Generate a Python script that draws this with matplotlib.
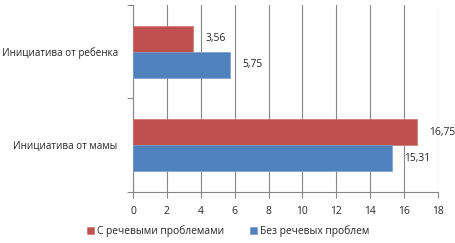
import matplotlib
matplotlib.use("Agg")
import matplotlib.pyplot as plt
import numpy as np

categories = ["Инициатива от мамы", "Инициатива от ребенка"]
series_names = ["С речевыми проблемами", "Без речевых проблем"]
speech = [16.75, 3.56]
no_speech = [15.31, 5.75]
labels_speech = ["16,75", "3,56"]
labels_no_speech = ["15,31", "5,75"]
xticks = [0, 2, 4, 6, 8, 10, 12, 14, 16, 18]

plt.rcParams['font.family'] = ['Open Sans', 'DejaVu Sans']
fs = 7.4

fig = plt.figure(figsize=(4.56, 2.43), dpi=100)
ax = fig.add_axes([133/456, 1-192/243, (438-133)/456, (192-5)/243])

y = np.arange(len(categories))
h = 0.28
red = '#C0504D'
blue = '#4F81BD'
ax.barh(y + h/2, speech, height=h, color=red, edgecolor='#C87572', linewidth=0.5, label=series_names[0], zorder=3)
ax.barh(y - h/2, no_speech, height=h, color=blue, edgecolor='#7A9FCE', linewidth=0.5, label=series_names[1], zorder=3)

for yi, v, t in zip(y, speech, labels_speech):
    ax.text(v + 0.7, yi + h/2, t, va='center', ha='left', fontsize=fs, color='#262626')
for yi, v, t in zip(y, no_speech, labels_no_speech):
    ax.text(v + 0.7, yi - h/2, t, va='center', ha='left', fontsize=fs, color='#262626')

ax.set_xlim(0, 18)
ax.set_ylim(-0.5, 1.5)
ax.set_xticks(xticks)
ax.set_xticklabels([str(t) for t in xticks], fontsize=fs, color='#262626')
ax.set_yticks(y)
ax.set_yticklabels(categories, fontsize=7.1, color='#262626')
ax.tick_params(axis='y', which='major', length=0, pad=11)
ax.set_yticks([-0.5, 0.5, 1.5], minor=True)
ax.tick_params(axis='y', which='minor', length=4, color='#868686', width=0.8)
ax.tick_params(axis='x', which='major', length=4, color='#868686', width=0.8, pad=6)
ax.grid(axis='x', color='#868686', linewidth=0.8, zorder=0)
ax.set_axisbelow(True)
for s in ['top', 'right']:
    ax.spines[s].set_visible(False)
for s in ['left', 'bottom']:
    ax.spines[s].set_color('#868686')
    ax.spines[s].set_linewidth(0.8)

leg = fig.legend(loc='lower center', bbox_to_anchor=(0.5, -0.015), ncol=2, frameon=False,
                 fontsize=fs, handlelength=0.7, handleheight=0.7, handletextpad=0.3, columnspacing=2.5)
for t in leg.get_texts():
    t.set_color('#262626')

fig.savefig('out.png', dpi=100)
